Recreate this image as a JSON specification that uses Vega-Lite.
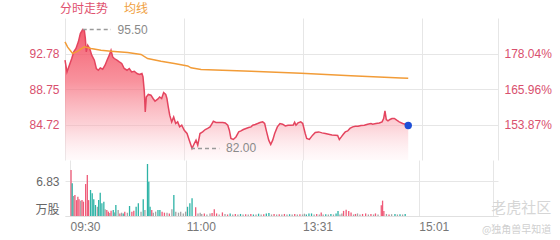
{
  "$schema": "https://vega.github.io/schema/vega-lite/v6.json",
  "autosize": {"type": "pad"},
  "padding": {"left": 28, "top": 3, "right": 5, "bottom": 2},
  "background": "white",
  "title": {"text": "老虎社区", "subtitle": "@独角兽早知道", "orient": "bottom", "anchor": "end", "frame": "bounds", "offset": -31, "font": "Noto Sans CJK SC", "fontSize": 15, "fontWeight": "normal", "color": "#d6d6d6", "subtitleFont": "Noto Sans CJK SC", "subtitleFontSize": 10, "subtitleColor": "#cfcfcf", "subtitlePadding": 9},
  "config": {
    "view": {"stroke": null},
    "font": "Liberation Sans, Noto Sans CJK SC",
    "axis": {"labelFont": "Liberation Sans, Noto Sans CJK SC", "labelFontSize": 12, "gridColor": "#e6e6e6", "gridWidth": 1, "ticks": false, "domain": false, "title": null, "labelFlush": false},
    "legend": {"labelFont": "Noto Sans CJK SC", "labelFontSize": 12, "title": null, "symbolSize": 0, "symbolStrokeWidth": 0, "symbolOpacity": 0, "labelOffset": 0, "orient": "none"}
  },
  "datasets": {
    "price": [
      {"t":0,"p":92.02},{"t":1.5,"p":90.69},{"t":3.3,"p":91.45},{"t":5.1,"p":92.21},{"t":6.6,"p":92.96},{"t":8.3,"p":93.35},{"t":10.1,"p":94.10},{"t":11.6,"p":95.05},{"t":13.4,"p":95.50},{"t":14.6,"p":95.43},{"t":15.4,"p":94.48},{"t":16.1,"p":92.96},{"t":17.2,"p":93.72},{"t":18.7,"p":93.35},{"t":20.2,"p":92.59},{"t":22.2,"p":92.02},{"t":23.7,"p":91.08},{"t":25.2,"p":90.88},{"t":26.7,"p":91.15},{"t":28.5,"p":91.00},{"t":30.3,"p":91.45},{"t":31.8,"p":92.02},{"t":33.5,"p":92.59},{"t":34.8,"p":93.15},{"t":36.1,"p":92.39},{"t":37.3,"p":92.21},{"t":39.3,"p":92.02},{"t":41.1,"p":91.83},{"t":42.9,"p":91.65},{"t":44.8,"p":91.08},{"t":46.9,"p":90.88},{"t":48.6,"p":91.08},{"t":50.4,"p":90.69},{"t":52.4,"p":90.77},{"t":54.5,"p":90.51},{"t":56.2,"p":90.40},{"t":58.2,"p":90.51},{"t":59.0,"p":90.12},{"t":60.0,"p":88.42},{"t":60.7,"p":86.15},{"t":61.5,"p":87.85},{"t":63.0,"p":88.13},{"t":65.0,"p":88.05},{"t":66.6,"p":87.67},{"t":68.1,"p":87.37},{"t":70.1,"p":87.59},{"t":71.6,"p":87.85},{"t":73.1,"p":87.67},{"t":74.6,"p":88.35},{"t":76.2,"p":88.13},{"t":77.1,"p":87.67},{"t":78.1,"p":86.72},{"t":79.2,"p":85.78},{"t":80.7,"p":85.02},{"t":82.2,"p":85.58},{"t":83.7,"p":84.83},{"t":85.2,"p":85.02},{"t":86.7,"p":84.45},{"t":88.3,"p":84.64},{"t":90.2,"p":84.07},{"t":92.3,"p":83.70},{"t":94.0,"p":82.94},{"t":96.1,"p":82.00},{"t":97.8,"p":82.56},{"t":99.1,"p":82.94},{"t":100.4,"p":82.37},{"t":102.1,"p":83.70},{"t":104.1,"p":83.88},{"t":106.1,"p":84.15},{"t":107.9,"p":84.27},{"t":109.7,"p":84.45},{"t":111.2,"p":84.83},{"t":112.2,"p":85.09},{"t":114.2,"p":84.95},{"t":116.7,"p":84.95},{"t":119.3,"p":84.95},{"t":121.2,"p":84.90},{"t":123.1,"p":84.64},{"t":124.3,"p":84.07},{"t":125.5,"p":83.13},{"t":127.3,"p":83.02},{"t":129.3,"p":83.31},{"t":131.4,"p":83.88},{"t":133.1,"p":83.99},{"t":134.9,"p":84.15},{"t":136.9,"p":84.27},{"t":138.9,"p":84.38},{"t":140.7,"p":84.45},{"t":142.0,"p":84.64},{"t":143.9,"p":84.72},{"t":145.7,"p":84.83},{"t":147.5,"p":84.95},{"t":149.5,"p":85.02},{"t":151.0,"p":84.83},{"t":152.5,"p":83.88},{"t":154.1,"p":82.94},{"t":155.6,"p":82.45},{"t":157.1,"p":82.94},{"t":158.6,"p":83.70},{"t":160.6,"p":84.45},{"t":162.6,"p":84.83},{"t":164.6,"p":84.75},{"t":166.6,"p":84.56},{"t":168.7,"p":84.64},{"t":170.7,"p":84.64},{"t":172.7,"p":84.67},{"t":173.7,"p":84.98},{"t":174.7,"p":84.64},{"t":176.2,"p":84.90},{"t":178.3,"p":85.02},{"t":179.8,"p":84.83},{"t":181.7,"p":83.70},{"t":182.8,"p":83.13},{"t":184.8,"p":83.02},{"t":187.3,"p":83.51},{"t":189.3,"p":83.81},{"t":191.9,"p":83.88},{"t":194.4,"p":83.77},{"t":196.9,"p":83.70},{"t":199.4,"p":83.62},{"t":201.9,"p":83.54},{"t":204.4,"p":83.51},{"t":206.2,"p":83.47},{"t":207.5,"p":83.02},{"t":209.0,"p":83.31},{"t":210.5,"p":83.62},{"t":212.0,"p":83.88},{"t":213.8,"p":83.99},{"t":215.5,"p":84.27},{"t":217.6,"p":84.45},{"t":219.6,"p":84.53},{"t":221.6,"p":84.53},{"t":223.9,"p":84.61},{"t":226.4,"p":84.64},{"t":228.9,"p":84.75},{"t":231.4,"p":84.83},{"t":232.7,"p":84.75},{"t":235.2,"p":84.83},{"t":237.7,"p":84.90},{"t":239.8,"p":85.02},{"t":241.0,"p":85.40},{"t":242.0,"p":86.26},{"t":243.0,"p":85.29},{"t":244.3,"p":85.13},{"t":245.8,"p":85.29},{"t":247.3,"p":85.40},{"t":249.1,"p":85.40},{"t":250.9,"p":85.21},{"t":252.8,"p":85.02},{"t":255.4,"p":84.83},{"t":257.9,"p":84.72},{"t":259.6,"p":84.60}
    ],
    "avg": [
      {"t":0,"p":94.10},{"t":2,"p":93.5},{"t":5.8,"p":92.78},{"t":9.6,"p":93.04},{"t":14.6,"p":93.53},{"t":19.7,"p":93.35},{"t":27.2,"p":93.15},{"t":34.8,"p":93.04},{"t":47.4,"p":92.89},{"t":57.5,"p":92.67},{"t":62.5,"p":92.21},{"t":72.6,"p":91.91},{"t":82.7,"p":91.65},{"t":92.8,"p":91.37},{"t":95.3,"p":91.15},{"t":102.9,"p":90.96},{"t":140.7,"p":90.77},{"t":178.5,"p":90.54},{"t":216.3,"p":90.26},{"t":254.1,"p":90.01},{"t":259.6,"p":89.98}
    ],
    "last": [{"t":259.6,"p":84.60}],
    "ann": [
      {"t":13.4,"t2":34.8,"p":95.5,"tx":39.8,"label":"95.50"},
      {"t":95.3,"t2":116.7,"p":82.0,"tx":121.8,"label":"82.00"}
    ],
    "vol": [
      {"t":0.8,"v":8.98,"c":"u"},{"t":1.7,"v":6.38,"c":"d"},{"t":2.8,"v":3.9,"c":"n"},{"t":3.8,"v":4.1,"c":"u"},{"t":5.1,"v":3.1,"c":"u"},{"t":6.1,"v":3.77,"c":"u"},{"t":7.0,"v":3.25,"c":"u"},{"t":8.3,"v":3.0,"c":"n"},{"t":9.3,"v":3.1,"c":"u"},{"t":10.4,"v":2.8,"c":"u"},{"t":12.1,"v":6.24,"c":"u"},{"t":13.4,"v":8.0,"c":"u"},{"t":14.4,"v":3.1,"c":"u"},{"t":15.9,"v":5.07,"c":"d"},{"t":17.2,"v":4.42,"c":"d"},{"t":18.4,"v":3.25,"c":"d"},{"t":19.7,"v":2.15,"c":"d"},{"t":21.2,"v":1.8,"c":"n"},{"t":22.2,"v":3.1,"c":"d"},{"t":23.4,"v":4.55,"c":"d"},{"t":24.7,"v":2.5,"c":"d"},{"t":26.2,"v":2.8,"c":"d"},{"t":27.2,"v":1.3,"c":"n"},{"t":28.5,"v":1.17,"c":"u"},{"t":29.7,"v":0.85,"c":"u"},{"t":30.8,"v":0.6,"c":"n"},{"t":31.8,"v":1.04,"c":"u"},{"t":33.5,"v":1.17,"c":"d"},{"t":34.5,"v":0.7,"c":"n"},{"t":35.5,"v":2.15,"c":"d"},{"t":37.3,"v":1.17,"c":"n"},{"t":38.6,"v":0.5,"c":"u"},{"t":39.9,"v":0.65,"c":"n"},{"t":41.2,"v":0.5,"c":"d"},{"t":42.4,"v":0.85,"c":"u"},{"t":44.4,"v":0.65,"c":"n"},{"t":46.1,"v":1.95,"c":"d"},{"t":47.9,"v":0.85,"c":"u"},{"t":49.4,"v":1.04,"c":"u"},{"t":51.2,"v":1.8,"c":"d"},{"t":52.9,"v":2.5,"c":"d"},{"t":55.0,"v":0.85,"c":"n"},{"t":56.7,"v":3.25,"c":"d"},{"t":58.0,"v":1.17,"c":"n"},{"t":60.0,"v":10.15,"c":"d"},{"t":61.0,"v":6.7,"c":"d"},{"t":62.0,"v":1.8,"c":"d"},{"t":63.3,"v":1.17,"c":"u"},{"t":64.5,"v":0.65,"c":"n"},{"t":66.3,"v":0.85,"c":"n"},{"t":68.1,"v":1.17,"c":"d"},{"t":69.6,"v":1.17,"c":"d"},{"t":71.3,"v":0.85,"c":"u"},{"t":73.1,"v":0.65,"c":"u"},{"t":75.1,"v":0.65,"c":"n"},{"t":76.9,"v":0.5,"c":"u"},{"t":78.9,"v":1.3,"c":"n"},{"t":80.4,"v":4.1,"c":"d"},{"t":81.9,"v":0.85,"c":"n"},{"t":84.0,"v":0.65,"c":"n"},{"t":85.7,"v":0.85,"c":"n"},{"t":87.7,"v":0.5,"c":"n"},{"t":89.5,"v":0.85,"c":"n"},{"t":91.0,"v":1.8,"c":"d"},{"t":92.8,"v":2.5,"c":"d"},{"t":94.5,"v":3.45,"c":"d"},{"t":97.3,"v":1.7,"c":"u"},{"t":99.1,"v":0.5,"c":"n"},{"t":100.8,"v":0.65,"c":"n"},
      {"t":102,"v":0.4,"c":"n"},{"t":104,"v":0.5,"c":"u"},{"t":106,"v":0.3,"c":"n"},{"t":108.4,"v":0.5,"c":"n"},{"t":110,"v":0.6,"c":"u"},{"t":111.7,"v":1.3,"c":"u"},{"t":113.5,"v":0.5,"c":"u"},{"t":115.5,"v":0.3,"c":"n"},{"t":118,"v":0.7,"c":"u"},{"t":120,"v":0.4,"c":"n"},{"t":122,"v":0.3,"c":"u"},{"t":124,"v":0.5,"c":"d"},{"t":126,"v":0.3,"c":"n"},{"t":128,"v":0.4,"c":"u"},{"t":130,"v":0.3,"c":"n"},{"t":132,"v":0.4,"c":"d"},{"t":134,"v":0.3,"c":"n"},{"t":136,"v":0.35,"c":"u"},{"t":138,"v":0.3,"c":"n"},{"t":140,"v":0.4,"c":"u"},{"t":142,"v":0.3,"c":"d"},{"t":144,"v":0.3,"c":"n"},{"t":146,"v":0.45,"c":"d"},{"t":148,"v":0.3,"c":"n"},{"t":150,"v":0.35,"c":"u"},{"t":152,"v":0.5,"c":"d"},{"t":154,"v":0.6,"c":"d"},{"t":156,"v":0.3,"c":"n"},{"t":158,"v":0.4,"c":"u"},{"t":160,"v":0.3,"c":"n"},{"t":162,"v":0.35,"c":"u"},{"t":164,"v":0.3,"c":"n"},{"t":166,"v":0.4,"c":"u"},{"t":168,"v":0.3,"c":"n"},{"t":170,"v":0.35,"c":"d"},{"t":172,"v":0.3,"c":"n"},{"t":174,"v":0.4,"c":"u"},{"t":176,"v":0.3,"c":"n"},{"t":178,"v":0.35,"c":"u"},{"t":180,"v":0.3,"c":"n"},{"t":181.5,"v":0.45,"c":"n"},{"t":183,"v":0.3,"c":"d"},{"t":185,"v":0.5,"c":"d"},{"t":187,"v":0.5,"c":"d"},{"t":189,"v":0.3,"c":"n"},{"t":191,"v":0.4,"c":"u"},{"t":193,"v":0.3,"c":"n"},{"t":194.5,"v":0.7,"c":"u"},{"t":196,"v":0.3,"c":"n"},{"t":198,"v":0.35,"c":"d"},{"t":200,"v":0.3,"c":"n"},{"t":202,"v":0.4,"c":"d"},{"t":204,"v":0.3,"c":"n"},{"t":206,"v":0.5,"c":"d"},{"t":207.5,"v":1.0,"c":"d"},{"t":209,"v":0.3,"c":"n"},{"t":210.5,"v":0.5,"c":"n"},{"t":211.8,"v":1.0,"c":"u"},{"t":213.8,"v":1.2,"c":"u"},{"t":215.8,"v":1.0,"c":"u"},{"t":217.6,"v":0.7,"c":"u"},{"t":219.5,"v":0.3,"c":"n"},{"t":221,"v":0.4,"c":"u"},{"t":222.6,"v":0.5,"c":"n"},{"t":224.5,"v":0.3,"c":"n"},{"t":226.5,"v":0.4,"c":"u"},{"t":228.9,"v":0.5,"c":"u"},{"t":231,"v":0.3,"c":"n"},{"t":233,"v":0.4,"c":"u"},{"t":235,"v":0.3,"c":"n"},{"t":236.5,"v":0.5,"c":"u"},{"t":238.5,"v":0.3,"c":"n"},{"t":241,"v":2.1,"c":"u"},{"t":242,"v":3.0,"c":"u"},{"t":243,"v":1.0,"c":"u"},{"t":245,"v":0.4,"c":"n"},{"t":247,"v":0.3,"c":"u"},{"t":249,"v":0.35,"c":"n"},{"t":251.6,"v":0.4,"c":"d"},{"t":253.5,"v":0.3,"c":"n"},{"t":255.5,"v":0.35,"c":"d"},{"t":257.5,"v":0.3,"c":"n"},{"t":259.5,"v":0.4,"c":"d"}
    ]
  },
  "spacing": 0,
  "bounds": "flush",
  "resolve": {"scale": {"color": "independent", "stroke": "independent"}, "legend": {"color": "independent", "stroke": "independent"}},
  "vconcat": [
    {
      "width": 433,
      "height": 142,
      "resolve": {"scale": {"y": "independent"}},
      "layer": [
        {
          "layer": [
            {
              "data": {"name": "price"},
              "mark": {"type": "area", "color": {"gradient": "linear", "x1": 0, "y1": 0, "x2": 0, "y2": 1, "stops": [{"offset": 0, "color": "rgba(242,72,92,0.88)"}, {"offset": 0.4, "color": "rgba(246,105,120,0.72)"}, {"offset": 0.75, "color": "rgba(250,170,180,0.5)"}, {"offset": 1, "color": "rgba(255,235,238,0.25)"}]}},
              "encoding": {
                "x": {"field": "t", "type": "quantitative", "scale": {"domain": [0, 327.5], "nice": false, "zero": false}, "axis": {"values": [0, 90, 180, 270, 327.5], "labels": false, "grid": true}},
                "y": {"field": "p", "type": "quantitative", "scale": {"domain": [80.69, 96.81], "nice": false, "zero": false}, "axis": {"values": [84.72, 88.75, 92.78], "grid": true, "format": ".2f", "labelColor": "#d9506e", "labelPadding": 6}},
                "y2": {"datum": 80.69}
              }
            },
            {
              "data": {"name": "price"},
              "mark": {"type": "line", "strokeWidth": 1.5},
              "encoding": {
                "x": {"field": "t", "type": "quantitative"},
                "y": {"field": "p", "type": "quantitative"},
                "color": {"datum": "分时走势", "scale": {"range": ["#e4455f"]}, "legend": {"legendX": -17, "legendY": -15, "labelColor": "#e0506e"}}
              }
            },
            {
              "data": {"name": "avg"},
              "mark": {"type": "line", "strokeWidth": 1.5},
              "encoding": {
                "x": {"field": "t", "type": "quantitative"},
                "y": {"field": "p", "type": "quantitative"},
                "stroke": {"datum": "均线", "scale": {"range": ["#f29c38"]}, "legend": {"legendX": 47, "legendY": -15, "labelColor": "#f0a040"}}
              }
            },
            {
              "data": {"name": "ann"},
              "mark": {"type": "rule", "color": "#9a9a9a", "strokeWidth": 1.5, "strokeDash": [4, 3]},
              "encoding": {
                "x": {"field": "t", "type": "quantitative"},
                "x2": {"field": "t2"},
                "y": {"field": "p", "type": "quantitative"}
              }
            },
            {
              "data": {"name": "ann"},
              "mark": {"type": "text", "align": "left", "baseline": "middle", "fontSize": 12, "color": "#8a8a8a", "font": "Liberation Sans"},
              "encoding": {
                "x": {"field": "tx", "type": "quantitative"},
                "y": {"field": "p", "type": "quantitative"},
                "text": {"field": "label"}
              }
            },
            {
              "data": {"name": "last"},
              "mark": {"type": "point", "filled": true, "size": 55, "opacity": 1, "color": "#1f4fd6"},
              "encoding": {
                "x": {"field": "t", "type": "quantitative"},
                "y": {"field": "p", "type": "quantitative"}
              }
            }
          ]
        },
        {
          "data": {"name": "last"},
          "mark": {"type": "point", "opacity": 0},
          "encoding": {
            "x": {"field": "t", "type": "quantitative"},
            "y": {"field": "p", "type": "quantitative", "scale": {"domain": [80.69, 96.81], "nice": false, "zero": false}, "axis": {"orient": "right", "values": [84.72, 88.75, 92.78], "grid": false, "labelExpr": "datum.value == 92.78 ? '178.04%' : datum.value == 88.75 ? '165.96%' : '153.87%'", "labelColor": "#d9506e", "labelPadding": 6}}
          }
        }
      ]
    },
    {
      "width": 433,
      "height": 56,
      "data": {"name": "vol"},
      "mark": {"type": "bar", "size": 1.3},
      "encoding": {
        "x": {"field": "t", "type": "quantitative", "scale": {"domain": [0, 327.5], "nice": false, "zero": false}, "axis": {"values": [0, 90, 180, 270, 327.5], "grid": true, "labelExpr": "datum.value == 0 ? '09:30' : datum.value == 90 ? '11:00' : datum.value == 180 ? '13:31' : datum.value == 270 ? '15:01' : ''", "labelAlign": "left", "labelColor": "#777777", "labelPadding": 5, "domain": true, "domainColor": "#e0e0e0", "labelOverlap": false}},
        "y": {"field": "v", "type": "quantitative", "scale": {"domain": [0, 10.93], "nice": false}, "axis": {"values": [0, 6.83], "grid": true, "labelExpr": "datum.value == 0 ? '万股' : '6.83'", "labelColor": "#666666", "labelPadding": 6, "labelFlush": true}},
        "fill": {"field": "c", "type": "nominal", "scale": {"domain": ["u", "d", "n"], "range": ["#ef5a78", "#2db3a6", "#a3a3a3"]}, "legend": null}
      }
    }
  ]
}
